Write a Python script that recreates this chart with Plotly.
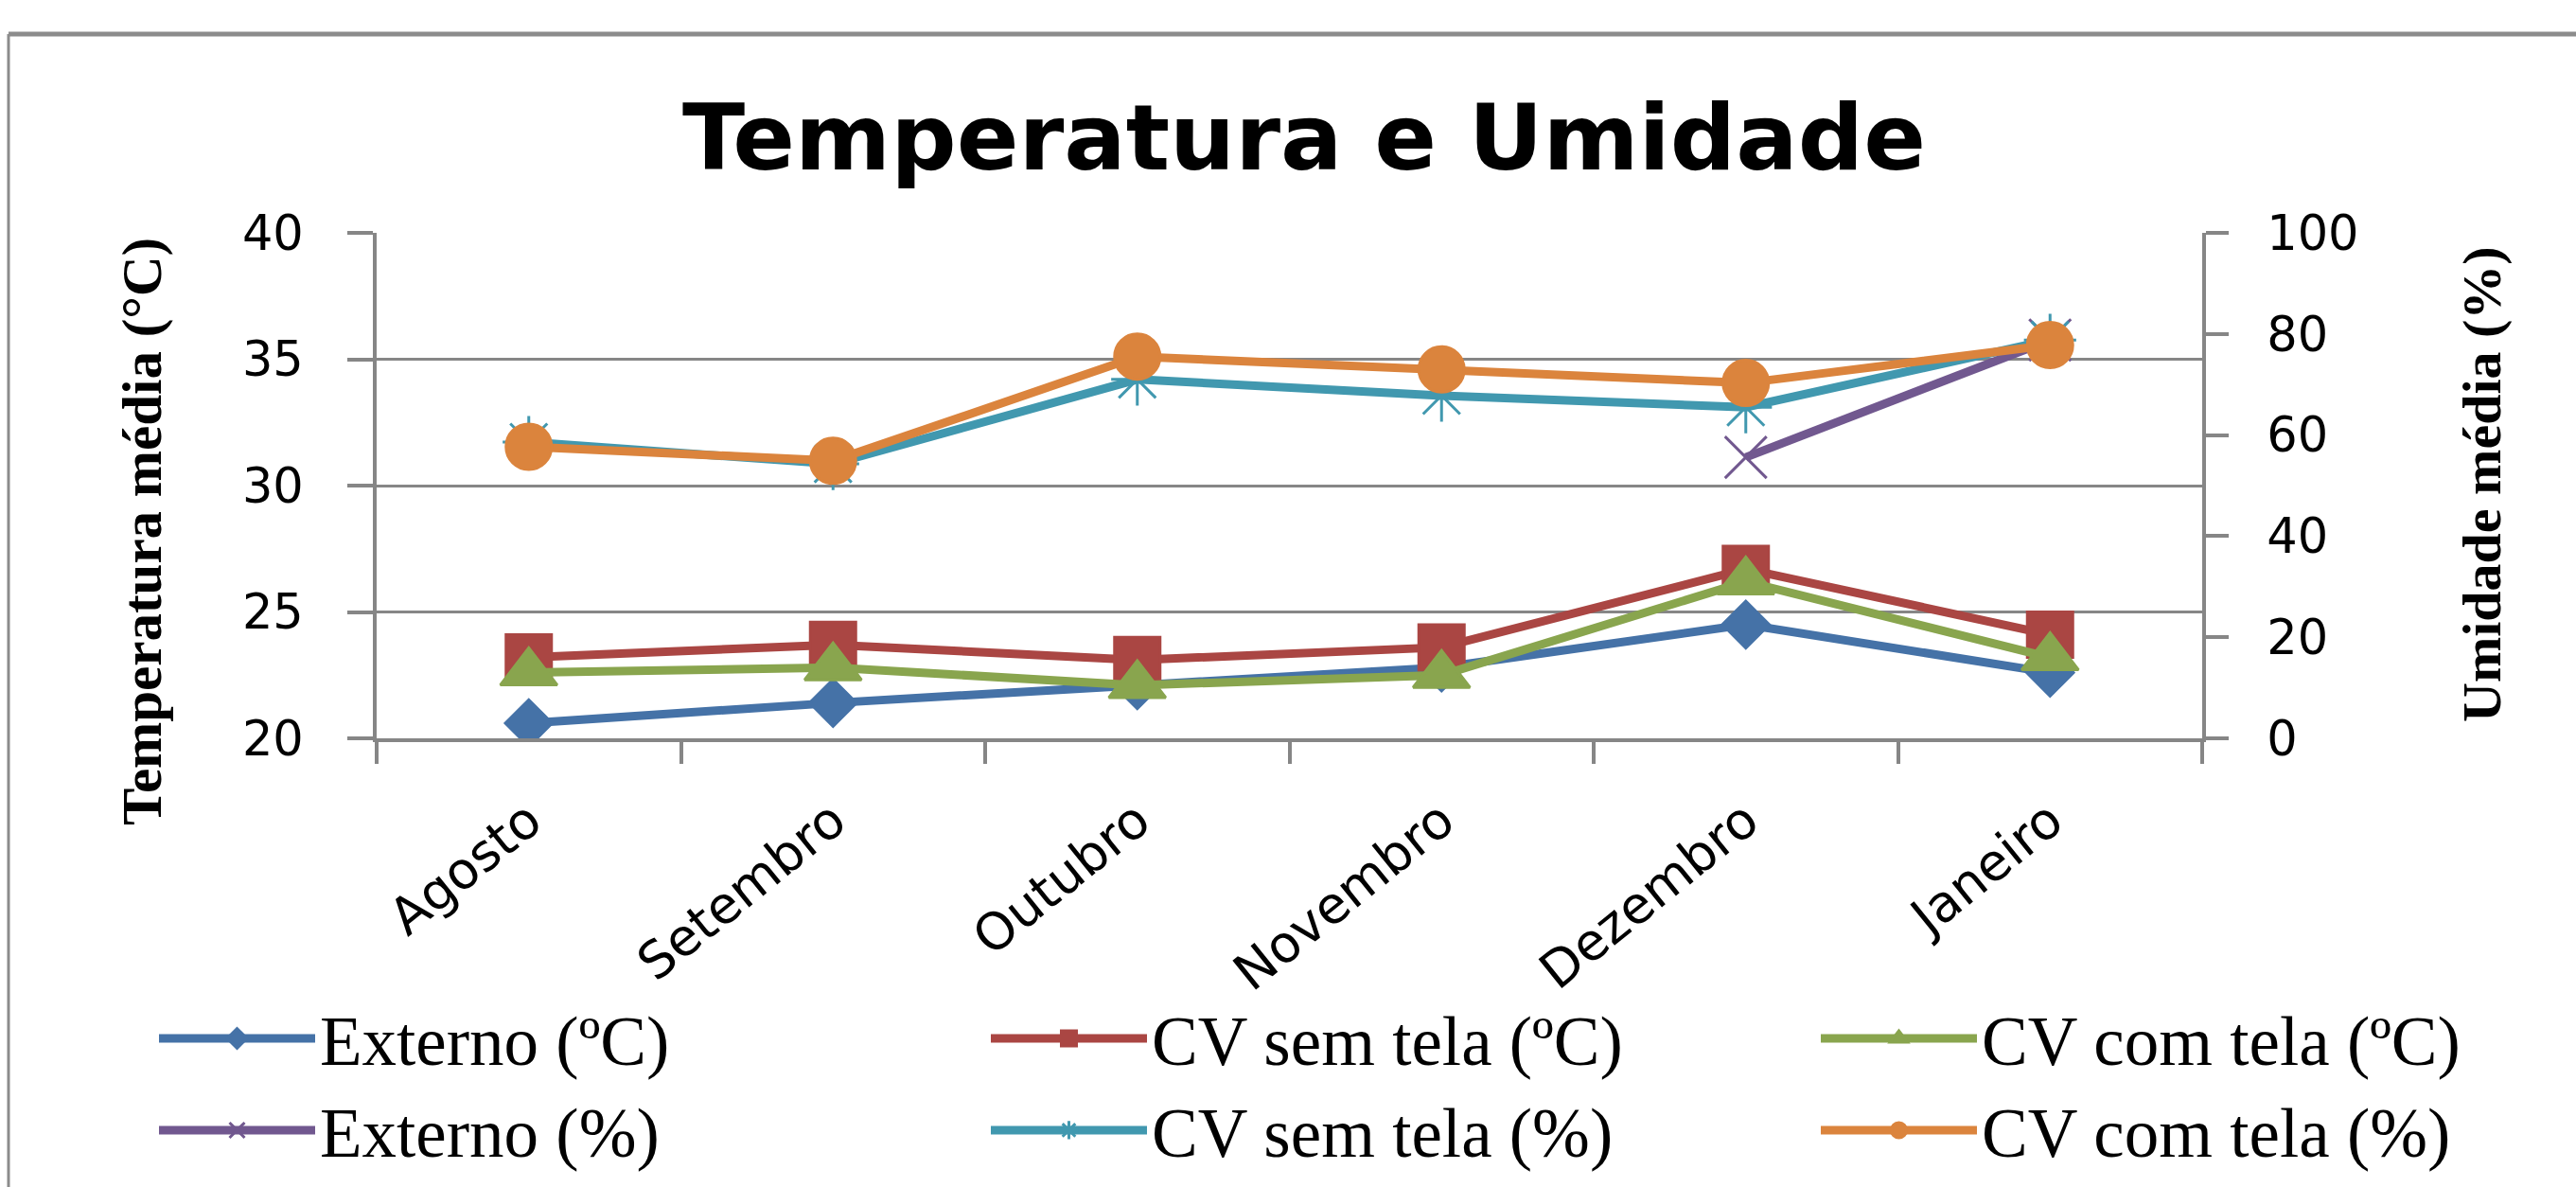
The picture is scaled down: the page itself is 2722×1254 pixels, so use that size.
import plotly.graph_objects as go

meses = ["Agosto", "Setembro", "Outubro", "Novembro", "Dezembro", "Janeiro"]

externo_c = [20.6, 21.4, 22.1, 22.8, 24.5, 22.6]
cv_sem_tela_c = [23.2, 23.7, 23.1, 23.6, 26.7, 24.1]
cv_com_tela_c = [22.6, 22.8, 22.1, 22.5, 26.2, 23.2]

externo_pct = [None, None, None, None, 55.6, 78.8]
cv_sem_tela_pct = [58.6, 54.3, 71.0, 67.8, 65.5, 78.8]
cv_com_tela_pct = [57.7, 54.9, 75.5, 73.0, 70.3, 77.8]

nomes_c = ["Externo (ºC)", "CV sem tela (ºC)", "CV com tela (ºC)"]
nomes_pct = ["Externo (%)", "CV sem tela (%)", "CV com tela (%)"]

W, H = 2722, 1254
L, R, T, B = 398, 2327, 246, 780  # plot area in px

def px_x(px):
    return (px - L) / (R - L)

def px_y(py):
    return (B - py) / (B - T)

LW = 9
fig = go.Figure()

# legend slots: (column line-start px, row centre px)
col_x = [168, 1047, 1924]
row_y = [1097, 1194]

temp_series = [
    (externo_c, nomes_c[0], "#4572A7", "diamond", 38),
    (cv_sem_tela_c, nomes_c[1], "#AA4643", "square", 48),
    (cv_com_tela_c, nomes_c[2], "#89A54E", "triangle-up", 52),
]
hum_series = [
    (externo_pct, nomes_pct[0], "#71588F", "x-thin-open", 44),
    (cv_sem_tela_pct, nomes_pct[1], "#4198AF", "asterisk-open", 46),
    (cv_com_tela_pct, nomes_pct[2], "#DB843D", "circle", 48),
]

legend_font = dict(family="Liberation Serif", size=73, color="black")
legends = {}
k = 0
for row, (series, axis) in enumerate([(temp_series, "y"), (hum_series, "y2")]):
    for col, (vals, nome, cor, sym, sz) in enumerate(series):
        k += 1
        lname = "legend" if k == 1 else f"legend{k}"
        fig.add_trace(go.Scatter(
            x=meses, y=vals, name=nome, mode="lines+markers",
            line=dict(color=cor, width=LW),
            marker=dict(symbol=sym, size=sz, color=cor, line=dict(color=cor, width=3)),
            yaxis=axis, legend=lname,
        ))
        legends[lname] = dict(
            orientation="h", xref="container", yref="container",
            xanchor="left", yanchor="middle",
            x=(col_x[col] - 5) / W, y=1 - row_y[row] / H,
            font=legend_font, itemwidth=165,
            bgcolor="rgba(0,0,0,0)", itemclick=False, itemdoubleclick=False,
        )

grid = "#868686"
tick_font = dict(family="DejaVu Sans", size=51, color="black")
xtick_font = dict(family="DejaVu Sans", size=54, color="black")

fig.update_layout(
    width=W, height=H,
    margin=dict(l=L, r=W - R, t=T, b=H - B, autoexpand=False),
    paper_bgcolor="white", plot_bgcolor="white",
    showlegend=True,
    title=dict(
        text="Temperatura e Umidade",
        font=dict(family="DejaVu Sans", size=97, color="black", weight="bold"),
        x=1378 / W, xanchor="center", xref="container",
        y=1 - 145 / H, yanchor="middle", yref="container",
    ),
    xaxis=dict(
        type="category", range=[-0.5, 5.5],
        showline=True, linecolor=grid, linewidth=4,
        ticks="outside", tickson="boundaries", ticklen=23, tickwidth=4, tickcolor=grid,
        showgrid=False, tickangle=-39, tickfont=xtick_font,
        ticklabelstandoff=30,
    ),
    yaxis=dict(
        range=[20, 40], dtick=5, tick0=20,
        showline=True, linecolor=grid, linewidth=4,
        ticks="outside", ticklen=27, tickwidth=4, tickcolor=grid,
        showgrid=True, gridcolor=grid, gridwidth=3,
        tickfont=tick_font, ticklabelstandoff=36, zeroline=False,
    ),
    yaxis2=dict(
        range=[0, 100], dtick=20, tick0=0, overlaying="y", side="right",
        showline=True, linecolor=grid, linewidth=4,
        ticks="outside", ticklen=24, tickwidth=4, tickcolor=grid,
        showgrid=False, tickfont=tick_font, ticklabelstandoff=30, zeroline=False,
    ),
    annotations=[
        dict(text="Temperatura média (°C)", textangle=-90,
             xref="paper", yref="paper", x=px_x(150), y=px_y(561),
             xanchor="center", yanchor="middle", showarrow=False,
             font=dict(family="Liberation Serif", size=59, color="black", weight="bold")),
        dict(text="Umidade média (%)", textangle=-90,
             xref="paper", yref="paper", x=px_x(2622), y=px_y(512),
             xanchor="center", yanchor="middle", showarrow=False,
             font=dict(family="Liberation Serif", size=58, color="black", weight="bold")),
    ],
    shapes=[
        dict(type="line", xref="paper", yref="paper",
             x0=px_x(9), x1=px_x(W + 20), y0=px_y(36), y1=px_y(36),
             line=dict(color="#8c8c8c", width=5), layer="below"),
        dict(type="line", xref="paper", yref="paper",
             x0=px_x(9), x1=px_x(9), y0=px_y(36), y1=px_y(H + 20),
             line=dict(color="#8c8c8c", width=3), layer="below"),
    ],
)
fig.update_layout(**legends)

fig.write_html(
    "out.html",
    config={"displayModeBar": False},
    post_script="document.body.style.margin='0px';document.body.style.overflow='hidden';",
)
